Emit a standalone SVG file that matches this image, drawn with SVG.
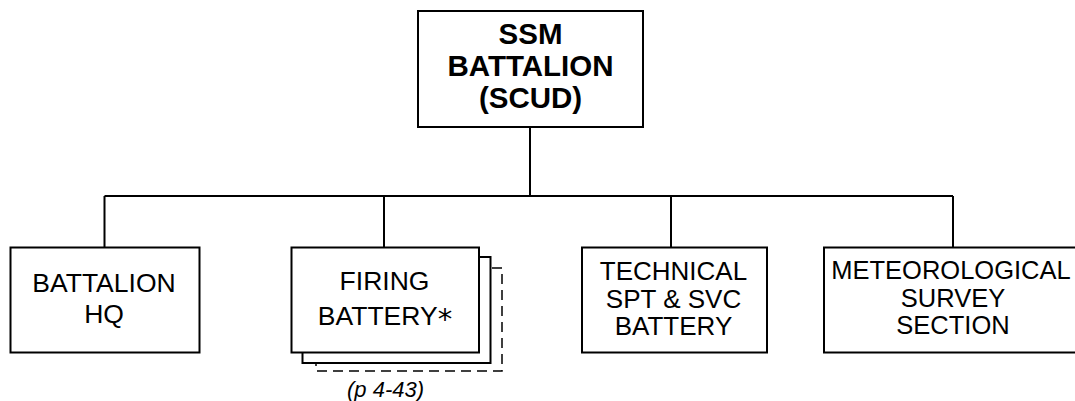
<svg xmlns="http://www.w3.org/2000/svg" width="1075" height="401" viewBox="0 0 1075 401">
<style>
.box{fill:#fff;stroke:#000;stroke-width:2}
.dash{fill:#fff;stroke:#000;stroke-width:1.5;stroke-dasharray:10 6}
.ln{fill:none;stroke:#000;stroke-width:2}
.t{font-family:"Liberation Sans",Arial,sans-serif;font-size:26px;text-anchor:middle;fill:#000}
.l{font-size:26.5px}
.m{font-size:25.5px}
.b{font-weight:bold;font-size:29.5px}
.i{font-style:italic;font-size:22px}
</style>
<rect width="1075" height="401" fill="#fff"/>
<g id="connectors">
<path class="ln" d="M530,127 V196 M104.5,196 H953 M104.5,196 V247 M384,196 V247 M671,196 V247 M953,196 V247"/>
</g>
<g id="ssm-battalion">
<rect class="box" x="418" y="11" width="225" height="116"/>
<text class="t b" x="530.5" y="43.5">SSM</text>
<text class="t b" x="530.5" y="75.5">BATTALION</text>
<text class="t b" x="530.5" y="107.5">(SCUD)</text>
</g>
<g id="battalion-hq">
<rect class="box" x="10.5" y="247.5" width="189" height="105"/>
<text class="t l" x="104" y="291.5">BATTALION</text>
<text class="t l" x="104" y="323">HQ</text>
</g>
<g id="firing-battery">
<rect class="dash" x="316" y="268" width="186" height="103"/>
<rect class="box" x="302.5" y="257" width="188" height="106"/>
<rect class="box" x="291.5" y="247.5" width="187.5" height="105"/>
<text class="t l" x="384.5" y="290">FIRING</text>
<text class="t l" x="385" y="325">BATTERY<tspan font-size="29" font-family="DejaVu Sans, sans-serif" dy="4">*</tspan></text>
<text class="t i" x="385.5" y="397">(p 4-43)</text>
</g>
<g id="technical-battery">
<rect class="box" x="582" y="247.5" width="185" height="105"/>
<text class="t" x="673.5" y="280">TECHNICAL</text>
<text class="t" x="673.5" y="307.5">SPT &amp; SVC</text>
<text class="t" x="673.5" y="335">BATTERY</text>
</g>
<g id="met-survey">
<rect class="box" x="824" y="247.5" width="260" height="105"/>
<text class="t m" x="951" y="279">METEOROLOGICAL</text>
<text class="t m" x="953" y="306.5">SURVEY</text>
<text class="t m" x="953" y="334">SECTION</text>
</g>
</svg>
